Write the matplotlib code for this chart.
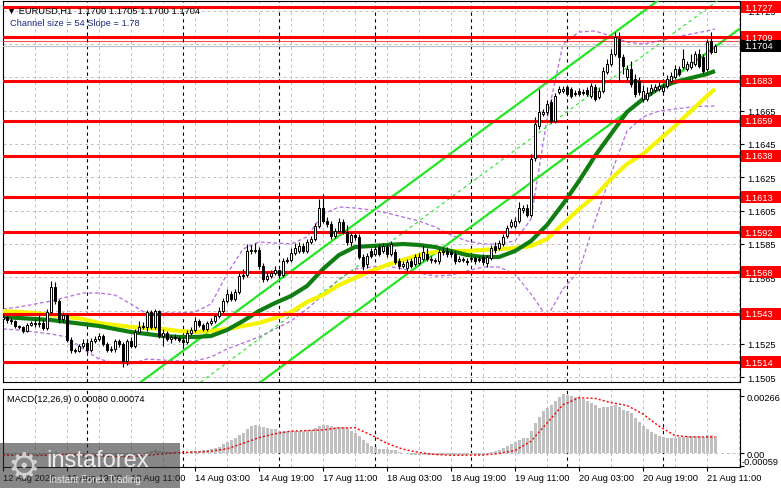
import numpy as np
import matplotlib
matplotlib.use("Agg")
import matplotlib.pyplot as plt
from matplotlib.patches import Rectangle
from matplotlib.transforms import blended_transform_factory

plt.rcParams["font.family"] = ["Liberation Sans", "DejaVu Sans"]

W, H = 781, 489

# EURUSD H1 candles, 12 Aug 03:00 .. 21 Aug 13:00 (one bar per hour, weekend skipped)
opens = [
    1.15400, 1.15412, 1.15394, 1.15388, 1.15358, 1.15352, 1.15328, 1.15364, 1.15376, 1.15370,
    1.15376, 1.15346, 1.15442, 1.15592, 1.15508, 1.15400, 1.15424, 1.15274, 1.15214, 1.15208,
    1.15238, 1.15256, 1.15214, 1.15268, 1.15280, 1.15298, 1.15250, 1.15214, 1.15220, 1.15268,
    1.15250, 1.15148, 1.15268, 1.15238, 1.15322, 1.15352, 1.15352, 1.15442, 1.15352, 1.15448,
    1.15298, 1.15316, 1.15280, 1.15292, 1.15286, 1.15274, 1.15262, 1.15316, 1.15334, 1.15388,
    1.15364, 1.15340, 1.15376, 1.15388, 1.15418, 1.15448, 1.15508, 1.15550, 1.15520, 1.15562,
    1.15658, 1.15664, 1.15808, 1.15808, 1.15814, 1.15718, 1.15640, 1.15658, 1.15676, 1.15694,
    1.15664, 1.15748, 1.15754, 1.15796, 1.15808, 1.15838, 1.15808, 1.15862, 1.15880, 1.15958,
    1.16066, 1.15988, 1.15970, 1.15898, 1.15928, 1.15982, 1.15922, 1.15862, 1.15904, 1.15892,
    1.15772, 1.15730, 1.15808, 1.15790, 1.15832, 1.15808, 1.15832, 1.15790, 1.15802, 1.15748,
    1.15718, 1.15706, 1.15748, 1.15730, 1.15736, 1.15760, 1.15790, 1.15760, 1.15748, 1.15748,
    1.15802, 1.15808, 1.15802, 1.15790, 1.15748, 1.15754, 1.15748, 1.15760, 1.15766, 1.15760,
    1.15772, 1.15736, 1.15766, 1.15838, 1.15826, 1.15850, 1.15898, 1.15958, 1.15958, 1.15988,
    1.16054, 1.16066, 1.16024, 1.16366, 1.16558, 1.16630, 1.16642, 1.16702, 1.16588, 1.16762,
    1.16768, 1.16792, 1.16780, 1.16750, 1.16768, 1.16762, 1.16774, 1.16738, 1.16792, 1.16732,
    1.16768, 1.16882, 1.16930, 1.16990, 1.17080, 1.16972, 1.16852, 1.16900, 1.16840, 1.16828,
    1.16720, 1.16720, 1.16762, 1.16774, 1.16780, 1.16768, 1.16798, 1.16828, 1.16852, 1.16900,
    1.16912, 1.16900, 1.16912, 1.16930, 1.16990, 1.16972, 1.16900, 1.17068, 1.17000,
]
highs = [
    1.15436, 1.15424, 1.15406, 1.15394, 1.15364, 1.15358, 1.15376, 1.15388, 1.15400, 1.15430,
    1.15400, 1.15460, 1.15628, 1.15622, 1.15520, 1.15442, 1.15436, 1.15292, 1.15226, 1.15250,
    1.15280, 1.15274, 1.15286, 1.15298, 1.15316, 1.15310, 1.15262, 1.15238, 1.15280, 1.15280,
    1.15262, 1.15280, 1.15292, 1.15340, 1.15388, 1.15382, 1.15454, 1.15454, 1.15460, 1.15454,
    1.15340, 1.15328, 1.15304, 1.15310, 1.15298, 1.15292, 1.15334, 1.15352, 1.15412, 1.15400,
    1.15376, 1.15388, 1.15406, 1.15430, 1.15472, 1.15526, 1.15580, 1.15568, 1.15580, 1.15682,
    1.15700, 1.15850, 1.15844, 1.15856, 1.15832, 1.15736, 1.15682, 1.15694, 1.15718, 1.15700,
    1.15766, 1.15772, 1.15826, 1.15856, 1.15862, 1.15856, 1.15880, 1.15898, 1.15976, 1.16120,
    1.16150, 1.16012, 1.15988, 1.15946, 1.16006, 1.16000, 1.15964, 1.15922, 1.15916, 1.15910,
    1.15790, 1.15796, 1.15826, 1.15838, 1.15850, 1.15856, 1.15850, 1.15868, 1.15820, 1.15766,
    1.15748, 1.15760, 1.15766, 1.15790, 1.15796, 1.15844, 1.15826, 1.15778, 1.15766, 1.15820,
    1.15826, 1.15832, 1.15820, 1.15808, 1.15778, 1.15772, 1.15766, 1.15784, 1.15778, 1.15778,
    1.15790, 1.15784, 1.15844, 1.15862, 1.15874, 1.15910, 1.15964, 1.16000, 1.16012, 1.16102,
    1.16084, 1.16090, 1.16390, 1.16612, 1.16780, 1.16660, 1.16714, 1.16720, 1.16756, 1.16798,
    1.16798, 1.16804, 1.16792, 1.16774, 1.16786, 1.16780, 1.16792, 1.16816, 1.16810, 1.16786,
    1.16912, 1.16960, 1.17020, 1.17122, 1.17122, 1.16990, 1.16924, 1.16948, 1.16870, 1.16852,
    1.16804, 1.16792, 1.16810, 1.16810, 1.16822, 1.16816, 1.16864, 1.16882, 1.16924, 1.16918,
    1.17020, 1.16948, 1.16990, 1.17008, 1.17020, 1.16990, 1.17080, 1.17122, 1.17050,
]
lows = [
    1.15388, 1.15376, 1.15370, 1.15346, 1.15340, 1.15316, 1.15322, 1.15358, 1.15352, 1.15352,
    1.15334, 1.15334, 1.15430, 1.15490, 1.15376, 1.15382, 1.15262, 1.15196, 1.15196, 1.15202,
    1.15226, 1.15202, 1.15202, 1.15256, 1.15268, 1.15238, 1.15202, 1.15202, 1.15202, 1.15232,
    1.15112, 1.15124, 1.15226, 1.15226, 1.15316, 1.15340, 1.15328, 1.15340, 1.15340, 1.15286,
    1.15238, 1.15268, 1.15256, 1.15274, 1.15262, 1.15226, 1.15250, 1.15304, 1.15322, 1.15352,
    1.15328, 1.15328, 1.15364, 1.15376, 1.15406, 1.15436, 1.15496, 1.15508, 1.15508, 1.15550,
    1.15640, 1.15652, 1.15790, 1.15796, 1.15700, 1.15622, 1.15628, 1.15646, 1.15664, 1.15646,
    1.15652, 1.15736, 1.15742, 1.15784, 1.15796, 1.15796, 1.15796, 1.15850, 1.15868, 1.15946,
    1.15976, 1.15952, 1.15880, 1.15886, 1.15916, 1.15910, 1.15844, 1.15838, 1.15874, 1.15760,
    1.15694, 1.15706, 1.15766, 1.15778, 1.15778, 1.15796, 1.15772, 1.15778, 1.15730, 1.15700,
    1.15706, 1.15688, 1.15706, 1.15718, 1.15724, 1.15748, 1.15748, 1.15736, 1.15736, 1.15730,
    1.15784, 1.15772, 1.15772, 1.15730, 1.15742, 1.15742, 1.15724, 1.15748, 1.15730, 1.15742,
    1.15724, 1.15712, 1.15754, 1.15796, 1.15814, 1.15838, 1.15886, 1.15946, 1.15946, 1.15976,
    1.16036, 1.16012, 1.16012, 1.16348, 1.16540, 1.16618, 1.16624, 1.16576, 1.16576, 1.16750,
    1.16756, 1.16738, 1.16726, 1.16738, 1.16738, 1.16744, 1.16738, 1.16726, 1.16708, 1.16720,
    1.16756, 1.16870, 1.16918, 1.16978, 1.16828, 1.16870, 1.16834, 1.16792, 1.16732, 1.16744,
    1.16702, 1.16708, 1.16744, 1.16762, 1.16768, 1.16756, 1.16786, 1.16816, 1.16840, 1.16858,
    1.16900, 1.16888, 1.16900, 1.16918, 1.16906, 1.16876, 1.16888, 1.16990, 1.17000,
]
closes = [
    1.15412, 1.15394, 1.15388, 1.15358, 1.15352, 1.15328, 1.15364, 1.15376, 1.15370, 1.15376,
    1.15346, 1.15442, 1.15592, 1.15508, 1.15400, 1.15424, 1.15274, 1.15214, 1.15208, 1.15238,
    1.15256, 1.15214, 1.15268, 1.15280, 1.15298, 1.15250, 1.15214, 1.15220, 1.15268, 1.15250,
    1.15148, 1.15268, 1.15238, 1.15322, 1.15352, 1.15358, 1.15442, 1.15352, 1.15448, 1.15298,
    1.15316, 1.15280, 1.15292, 1.15286, 1.15274, 1.15262, 1.15316, 1.15334, 1.15388, 1.15364,
    1.15340, 1.15376, 1.15388, 1.15418, 1.15448, 1.15508, 1.15550, 1.15520, 1.15562, 1.15658,
    1.15664, 1.15808, 1.15808, 1.15814, 1.15718, 1.15640, 1.15658, 1.15676, 1.15694, 1.15664,
    1.15748, 1.15754, 1.15796, 1.15826, 1.15838, 1.15808, 1.15862, 1.15880, 1.15958, 1.16066,
    1.15988, 1.15970, 1.15898, 1.15928, 1.15982, 1.15922, 1.15862, 1.15904, 1.15892, 1.15772,
    1.15718, 1.15778, 1.15778, 1.15820, 1.15790, 1.15838, 1.15790, 1.15850, 1.15742, 1.15718,
    1.15730, 1.15742, 1.15718, 1.15772, 1.15772, 1.15802, 1.15760, 1.15754, 1.15754, 1.15802,
    1.15808, 1.15790, 1.15790, 1.15748, 1.15760, 1.15760, 1.15742, 1.15766, 1.15748, 1.15754,
    1.15742, 1.15772, 1.15826, 1.15814, 1.15856, 1.15892, 1.15946, 1.15982, 1.15988, 1.16066,
    1.16066, 1.16024, 1.16360, 1.16570, 1.16642, 1.16642, 1.16690, 1.16588, 1.16738, 1.16780,
    1.16780, 1.16750, 1.16738, 1.16756, 1.16750, 1.16756, 1.16750, 1.16798, 1.16720, 1.16768,
    1.16888, 1.16930, 1.16990, 1.17092, 1.16972, 1.16918, 1.16900, 1.16810, 1.16750, 1.16762,
    1.16768, 1.16756, 1.16786, 1.16792, 1.16798, 1.16792, 1.16840, 1.16858, 1.16900, 1.16870,
    1.16960, 1.16930, 1.16942, 1.16990, 1.16918, 1.16888, 1.17062, 1.17002, 1.17040,
]

# indicator lines read every 4 bars
line_bars = [0, 4, 8, 12, 16, 20, 24, 28, 32, 36, 40, 44, 48, 52, 56, 60, 64, 68, 72, 76,
             80, 84, 88, 92, 96, 100, 104, 108, 112, 116, 120, 124, 128, 132, 136, 140,
             144, 148, 152, 156, 160, 164, 168, 172, 176, 178]
ma_fast = [1.15412, 1.15406, 1.15400, 1.15394, 1.15382, 1.15370, 1.15358, 1.15340, 1.15322, 1.15310,
           1.15298, 1.15292, 1.15292, 1.15298, 1.15334, 1.15388, 1.15448, 1.15496, 1.15538, 1.15598,
           1.15700, 1.15784, 1.15832, 1.15838, 1.15844, 1.15850, 1.15844, 1.15832, 1.15808, 1.15784,
           1.15772, 1.15772, 1.15808, 1.15868, 1.15964, 1.16090, 1.16228, 1.16378, 1.16510, 1.16642,
           1.16720, 1.16786, 1.16822, 1.16846, 1.16870, 1.16888]
ma_slow = [1.15448, 1.15442, 1.15436, 1.15424, 1.15412, 1.15400, 1.15376, 1.15364, 1.15352, 1.15346,
           1.15340, 1.15328, 1.15322, 1.15328, 1.15340, 1.15358, 1.15376, 1.15406, 1.15442, 1.15502,
           1.15544, 1.15604, 1.15646, 1.15688, 1.15724, 1.15754, 1.15784, 1.15802, 1.15808, 1.15808,
           1.15814, 1.15820, 1.15826, 1.15838, 1.15880, 1.15970, 1.16060, 1.16138, 1.16240, 1.16330,
           1.16390, 1.16474, 1.16558, 1.16648, 1.16738, 1.16780]
band_up = [1.15460, 1.15472, 1.15490, 1.15508, 1.15532, 1.15556, 1.15556, 1.15544, 1.15490, 1.15430,
           1.15436, 1.15436, 1.15442, 1.15490, 1.15670, 1.15820, 1.15862, 1.15856, 1.15850, 1.15892,
           1.16030, 1.16072, 1.16066, 1.16054, 1.16036, 1.16012, 1.15988, 1.15952, 1.15904, 1.15868,
           1.15850, 1.15850, 1.15868, 1.16000, 1.16600, 1.17050, 1.17122, 1.17128, 1.17098, 1.17062,
           1.17050, 1.17068, 1.17092, 1.17110, 1.17128, 1.17140]
band_dn = [1.15340, 1.15334, 1.15322, 1.15310, 1.15292, 1.15220, 1.15160, 1.15136, 1.15130, 1.15160,
           1.15154, 1.15148, 1.15148, 1.15172, 1.15220, 1.15256, 1.15292, 1.15340, 1.15388, 1.15460,
           1.15544, 1.15640, 1.15700, 1.15712, 1.15718, 1.15700, 1.15676, 1.15658, 1.15664, 1.15688,
           1.15712, 1.15712, 1.15670, 1.15550, 1.15412, 1.15580, 1.15688, 1.15988, 1.16270, 1.16528,
           1.16612, 1.16648, 1.16660, 1.16672, 1.16678, 1.16678]

# regression channel, end points
chan_bars = [0, 184]
chan_low = [1.13882, 1.17139]
chan_mid = [1.14147, 1.17404]
chan_up = [1.14412, 1.17669]

red_levels = [1.1727, 1.1709, 1.1683, 1.1659, 1.1638, 1.1613, 1.1592, 1.1568, 1.1543, 1.1514]
extra_red = 1.17068
last_price = 1.1704
price_ticks = [1.1505, 1.1525, 1.1545, 1.1565, 1.1585, 1.1605, 1.1625, 1.1645,
               1.1665, 1.1685, 1.1705, 1.1725]

macd_hist = [
    -0.00010, -0.00010, -0.00011, -0.00012, -0.00013, -0.00014, -0.00013, -0.00012, -0.00011, -0.00010,
    -0.00010, -0.00006, 0.00002, 0.00004, 0.00001, -0.00001, -0.00007, -0.00013, -0.00018, -0.00020,
    -0.00021, -0.00022, -0.00021, -0.00019, -0.00017, -0.00017, -0.00018, -0.00018, -0.00016, -0.00015,
    -0.00018, -0.00014, -0.00012, -0.00008, -0.00004, -0.00001, 0.00005, 0.00008, 0.00012, 0.00010,
    0.00008, 0.00007, 0.00006, 0.00005, 0.00003, 0.00001, 0.00003, 0.00008, 0.00011, 0.00011,
    0.00012, 0.00013, 0.00017, 0.00022, 0.00030, 0.00040, 0.00050, 0.00060, 0.00070, 0.00082,
    0.00095, 0.00110, 0.00125, 0.00130, 0.00128, 0.00120, 0.00117, 0.00113, 0.00110, 0.00105,
    0.00104, 0.00104, 0.00105, 0.00105, 0.00105, 0.00105, 0.00106, 0.00108, 0.00115, 0.00125,
    0.00130, 0.00130, 0.00125, 0.00122, 0.00122, 0.00120, 0.00115, 0.00105, 0.00095, 0.00080,
    0.00060, 0.00045, 0.00033, 0.00026, 0.00020, 0.00018, 0.00017, 0.00016, 0.00012, 0.00006,
    0.00002, -0.00004, -0.00008, -0.00010, -0.00011, -0.00010, -0.00010, -0.00010, -0.00010, -0.00008,
    -0.00007, -0.00007, -0.00008, -0.00009, -0.00010, -0.00010, -0.00010, -0.00009, -0.00009, -0.00008,
    -0.00008, -0.00005, 0.00003, 0.00010, 0.00016, 0.00025, 0.00034, 0.00042, 0.00050, 0.00060,
    0.00070, 0.00072, 0.00105, 0.00140, 0.00170, 0.00195, 0.00210, 0.00225, 0.00245, 0.00262,
    0.00275, 0.00272, 0.00265, 0.00260, 0.00255, 0.00250, 0.00243, 0.00235, 0.00222, 0.00212,
    0.00213, 0.00215, 0.00218, 0.00225, 0.00215, 0.00203, 0.00195, 0.00185, 0.00165, 0.00145,
    0.00128, 0.00110, 0.00097, 0.00088, 0.00080, 0.00074, 0.00072, 0.00072, 0.00072, 0.00074,
    0.00077, 0.00079, 0.00080, 0.00080, 0.00078, 0.00077, 0.00082, 0.00083, 0.00080,
]
macd_signal = [-0.00010, -0.00011, -0.00012, -0.00010, -0.00006, -0.00008, -0.00013, -0.00017, -0.00016, -0.00011,
               -0.00003, 0.00003, 0.00004, 0.00009, 0.00020, 0.00045, 0.00072, 0.00090, 0.00102, 0.00105,
               0.00108, 0.00117, 0.00118, 0.00085, 0.00045, 0.00018, 0.00003, -0.00007, -0.00010, -0.00010,
               -0.00009, -0.00002, 0.00012, 0.00055, 0.00140, 0.00225, 0.00258, 0.00255, 0.00235, 0.00222,
               0.00182, 0.00125, 0.00082, 0.00075, 0.00075, 0.00074]
macd_scale = [0.00266, 0.0]
macd_min = -0.00059

time_bars = [0, 16, 32, 48, 64, 80, 96, 112, 128, 144, 160, 176]
time_labels = ["12 Aug 2026", "12 Aug 19:00", "13 Aug 11:00", "14 Aug 03:00", "14 Aug 19:00",
               "17 Aug 11:00", "18 Aug 03:00", "18 Aug 19:00", "19 Aug 11:00", "20 Aug 03:00",
               "20 Aug 19:00", "21 Aug 11:00"]
day_bars = [21, 45, 69, 93, 117, 141, 165]

FS = 6.7
XLIM = (-0.125, 184.25)

fig = plt.figure(figsize=(W / 100, H / 100), dpi=100)
ax = fig.add_axes([2.5 / W, 1 - 383 / H, 737.5 / W, 381 / H])
ax2 = fig.add_axes([2.5 / W, 1 - 468 / H, 737.5 / W, 78 / H])

for a in (ax, ax2):
    a.set_xlim(*XLIM)
    for s in a.spines.values():
        s.set_color("black")
        s.set_linewidth(0.8)
    for b in range(8, 185, 8):
        a.axvline(b, color="#c0c0c0", lw=0.7, ls=(0, (3, 3)), zorder=1)
    for b in day_bars:
        a.axvline(b, color="black", lw=0.8, ls=(0, (3, 3)), zorder=1.5)

ax.set_ylim(1.15022, 1.17308)
for p in price_ticks:
    ax.axhline(p, color="#c0c0c0", lw=0.7, ls=(0, (3, 3)), zorder=1)

# bands, channel, moving averages
ax.plot(line_bars, band_up, color="#b36be0", lw=0.9, ls=(0, (3, 2)), zorder=2)
ax.plot(line_bars, band_dn, color="#b36be0", lw=0.9, ls=(0, (3, 2)), zorder=2)
ax.plot(chan_bars, chan_low, color="#22e622", lw=1.6, zorder=3)
ax.plot(chan_bars, chan_up, color="#22e622", lw=1.6, zorder=3)
ax.plot(chan_bars, chan_mid, color="#22e622", lw=0.8, ls=(0, (3, 3)), zorder=3)
ax.plot(line_bars, ma_slow, color="#f5f500", lw=3.0, solid_capstyle="butt", zorder=3)
ax.plot(line_bars, ma_fast, color="#0f7d0f", lw=3.0, solid_capstyle="butt", zorder=3)

for lvl in red_levels:
    ax.axhline(lvl, color="#ff0000", lw=2.2, zorder=4)
ax.axhline(extra_red, color="#ff0000", lw=0.8, alpha=0.7, zorder=4)
ax.axhline(last_price, color="#c0c0c0", lw=0.8, zorder=4)

# candles
x = np.arange(len(closes))
o = np.array(opens)
c = np.array(closes)
ax.vlines(x, lows, highs, color="black", lw=0.8, zorder=5)
body_lo = np.minimum(o, c)
body_h = np.maximum(np.abs(c - o), 0.00003)
ax.bar(x, body_h, bottom=body_lo, width=0.55,
       color=np.where(c >= o, "white", "black"),
       edgecolor="black", linewidth=0.7, zorder=6)

ax.set_xticks([])
ax.yaxis.tick_right()
ax.set_yticks(price_ticks)
ax.set_yticklabels([f"{p:.4f}" for p in price_ticks])
ax.tick_params(axis="y", direction="out", length=3, width=0.8, pad=2, labelsize=FS)

# right-hand price boxes
tr = blended_transform_factory(ax.transAxes, ax.transData)
box_h = 0.00072
for lvl in red_levels:
    ax.add_patch(Rectangle((1.0014, lvl - box_h / 2), 0.06, box_h, transform=tr,
                           facecolor="#ff0000", edgecolor="none", clip_on=False, zorder=10))
    ax.text(1.006, lvl, f"{lvl:.4f}", transform=tr, color="white", fontsize=FS,
            va="center", ha="left", clip_on=False, zorder=11)
ax.add_patch(Rectangle((1.0014, last_price - box_h / 2), 0.06, box_h, transform=tr,
                       facecolor="black", edgecolor="none", clip_on=False, zorder=10))
ax.text(1.006, last_price, f"{last_price:.4f}", transform=tr, color="white", fontsize=FS,
        va="center", ha="left", clip_on=False, zorder=11)

# MACD window
ax2.set_ylim(-0.00065, 0.002987)
ax2.bar(x, macd_hist, width=0.75, color="#c0c0c0", zorder=2)
ax2.axhline(0, color="#c0c0c0", lw=0.7, ls=(0, (3, 3)), zorder=1)
ax2.plot(line_bars, macd_signal, color="#ff0000", lw=1.0, ls=(0, (1.5, 1.5)), zorder=3)
ax2.yaxis.tick_right()
ax2.set_yticks(macd_scale + [macd_min])
ax2.set_yticklabels(["0.00266", "0.00", ""])
ax2.tick_params(axis="y", direction="out", length=3, width=0.8, pad=2, labelsize=FS)
tr2 = blended_transform_factory(ax2.transAxes, ax2.transData)
ax2.text(1.0015, macd_min + 0.00018, "-0.00059", transform=tr2, fontsize=FS,
         va="center", ha="left", clip_on=False)
ax2.set_xticks(time_bars)
ax2.set_xticklabels(time_labels, ha="left")
ax2.tick_params(axis="x", direction="out", length=3, width=0.8, pad=1.5, labelsize=FS)

# captions
fig.text(7 / W, 1 - 11 / H, "\u25bc EURUSD,H1  1.1700 1.1705 1.1700 1.1704",
         fontsize=FS, va="center", ha="left", color="black")
fig.text(10 / W, 1 - 24 / H, "Channel size = 54 Slope = 1.78",
         fontsize=FS, va="center", ha="left", color="#1c2a80")
fig.text(7 / W, 1 - 400 / H, "MACD(12,26,9) 0.00080 0.00074",
         fontsize=FS, va="center", ha="left", color="black")

# watermark
fig.add_artist(Rectangle((0, 0), 180 / W, 45 / H, transform=fig.transFigure,
                         facecolor="#303030", edgecolor="none", alpha=0.58, zorder=20))
fig.text(24 / W, 1 - 467 / H, "\u2699", family=["DejaVu Sans"], fontsize=26,
         color="#e0e0e0", alpha=0.85, ha="center", va="center", zorder=21)
fig.text(46 / W, 1 - 461 / H, "instaforex", fontsize=17, color="white",
         alpha=0.85, ha="left", va="center", zorder=21)
fig.text(49 / W, 1 - 480 / H, "Instant Forex Trading", fontsize=7, color="white",
         alpha=0.8, ha="left", va="center", zorder=21)

fig.savefig("out.png", dpi=100)
